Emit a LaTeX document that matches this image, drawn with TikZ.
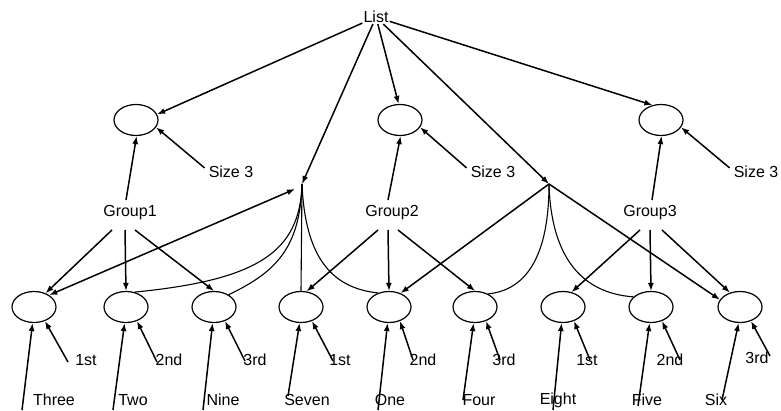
\documentclass[tikz,border=0pt]{standalone}
\usepackage{fontspec}
\setmainfont{Liberation Sans}
\usetikzlibrary{arrows.meta,shapes.geometric,calc}
\begin{document}
\begin{tikzpicture}[x=1pt,y=-1pt,
  tip/.tip={Latex[length=8pt,width=6pt]},
  arr/.style={line width=1.5pt,-tip},
  dbl/.style={line width=1.5pt,tip-tip},
  ln/.style={line width=1.1pt},
  ell/.style={draw,line width=1.2pt,ellipse,minimum width=44pt,minimum height=31pt,inner sep=0pt},
  lab/.style={inner sep=1pt,font=\fontsize{16}{18}\selectfont}]
\useasboundingbox (0,0) rectangle (781,411);

% top
\node[lab] (List) at (376,17) {List};
\node[ell] (T1) at (136,120) {};
\node[ell] (T2) at (400,120) {};
\node[ell] (T3) at (661,120) {};
\node[lab] (S1) at (231,172) {Size 3};
\node[lab] (S2) at (493,172) {Size 3};
\node[lab] (S3) at (756,172) {Size 3};
\node[lab] (G1) at (130,213) {Group1};
\node[lab] (G2) at (392,213) {Group2};
\node[lab] (G3) at (650,213) {Group3};
\coordinate (J1) at (302,184);
\coordinate (J1a) at (295,189);
\coordinate (J2) at (549,184);

% bottom ellipses
\foreach \n/\x in {Three/34,Two/126,Nine/214,Seven/301,One/389,Four/475,Eight/563,Five/651,Six/740}
  \node[ell] (\n) at (\x,307) {};

% bottom labels
\foreach \n/\x in {Three/54,Two/133,Nine/223,Seven/307,One/390,Four/479,Eight/558,Five/647,Six/716}
  \node[lab] (L\n) at (\x,400) {\n};
% ordinal labels
\node[lab] (OThree) at (86,360) {1st};
\node[lab] (OTwo) at (169,360) {2nd};
\node[lab] (ONine) at (255,360) {3rd};
\node[lab] (OSeven) at (340,360) {1st};
\node[lab] (OOne) at (423,360) {2nd};
\node[lab] (OFour) at (504,360) {3rd};
\node[lab] (OEight) at (587,360) {1st};
\node[lab] (OFive) at (670,360) {2nd};
\node[lab] (OSix) at (757,358) {3rd};

% tails of label arrows
\foreach \n/\x/\y in {Three/22/410,Two/113/410,Nine/203/410,Seven/288/396,One/378/410,Four/463/400,Eight/553/410,Five/638/406,Six/722/400}
  \coordinate (t\n) at (\x,\y);
\foreach \n/\x/\y in {Three/68/362,Two/157/362,Nine/245/361,Seven/333/361,One/413/360,Four/500/360,Eight/590/360,Five/680/360,Six/770/356}
  \coordinate (o\n) at (\x,\y);

\foreach \n in {Three,Two,Nine,Seven,One,Four,Eight,Five,Six}{
  \draw[arr] (t\n) -- (\n.265);
  \draw[arr] (o\n) -- (\n.-52);
}

% List arrows
\draw[arr] (List) -- (T1.15);
\draw[arr] (List) -- (J1);
\draw[arr] (List) -- (T2.95);
\draw[arr] (List) -- (J2);
\draw[arr] (List) -- (T3.120);

% Size arrows
\draw[arr] ($(S1.north west)+(-3,3)$) -- (T1.-20);
\draw[arr] ($(S2.north west)+(-3,3)$) -- (T2.-20);
\draw[arr] ($(S3.north west)+(-3,3)$) -- (T3.-20);

% Group to top ellipse
\draw[arr] ($(G1)+(-4,-13)$) -- (T1.-88);
\draw[arr] ($(G2)+(-4,-13)$) -- (T2.-88);
\draw[arr] ($(G3)+(2,-13)$) -- (T3.-88);

% Group to bottom ellipses
\draw[arr] ($(G1)+(-18,17)$) -- (Three.50);
\draw[arr] ($(G1)+(-5,17)$) -- (Two.north);
\draw[arr] ($(G1)+(5,17)$) -- (Nine.north);
\draw[arr] ($(G2)+(-14,17)$) -- (Seven.70);
\draw[arr] ($(G2)+(-4,17)$) -- (One.north);
\draw[arr] ($(G2)+(6,17)$) -- (Four.north);
\draw[arr] ($(G3)+(-10,17)$) -- (Eight.60);
\draw[arr] ($(G3)+(0,17)$) -- (Five.north);
\draw[arr] ($(G3)+(12,17)$) -- (Six.125);

% junction 1
\draw[dbl] (Three.38) -- (J1a);
\draw[ln] (J1) .. controls (300,252) and (258,280) .. (Two.60);
\draw[ln] (J1) .. controls (300,248) and (276,272) .. (Nine.40);
\draw[ln] (J1) -- (Seven.north);
\draw[ln] (J1) .. controls (305,255) and (330,288) .. (One.128);

% junction 2
\draw[arr] (J2) -- (One.50);
\draw[ln] (J2) .. controls (549,255) and (527,290) .. (Four.45);
\draw[ln] (J2) .. controls (551,255) and (580,293) .. (Five.150);
\draw[arr] (J2) -- (Six.160);
\end{tikzpicture}
\end{document}
